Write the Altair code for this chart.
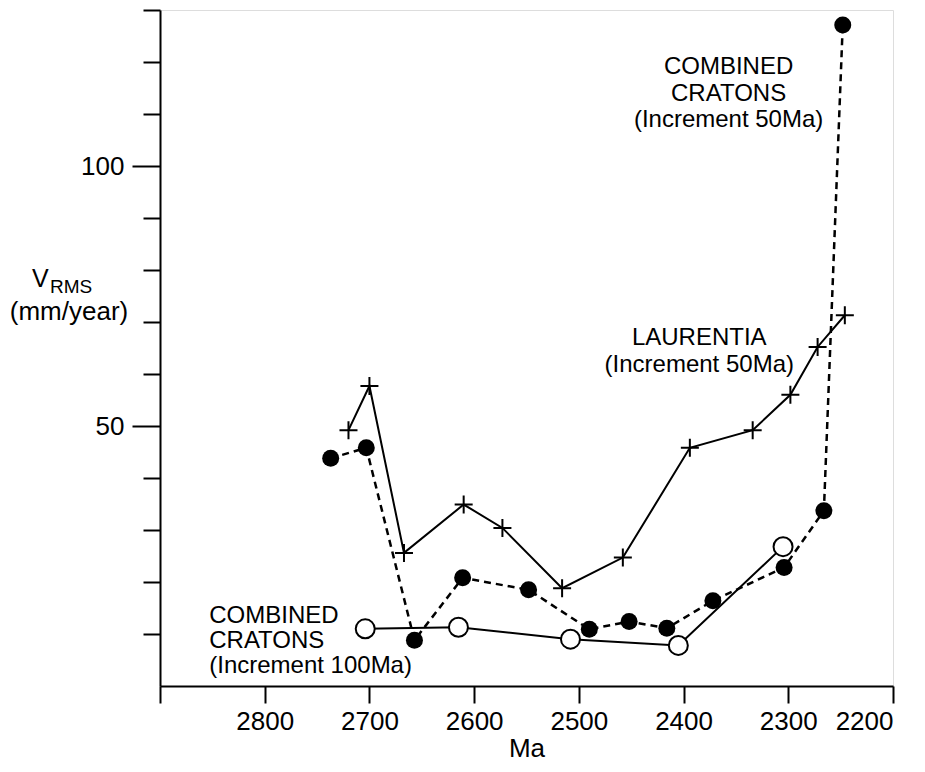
import altair as alt
import pandas as pd

FONT = "Liberation Sans"

# Laurentia (increment 50 Ma)
lau_age = [2720, 2700, 2667, 2610, 2573, 2516, 2458, 2394, 2334, 2298, 2272, 2246]
lau_v = [49.2, 57.7, 25.6, 34.9, 30.4, 18.8, 24.7, 45.8, 49.2, 56.0, 65.2, 71.3]

# Combined cratons (increment 50 Ma)
c50_age = [2737, 2703, 2657, 2611, 2548, 2490, 2452, 2416, 2372, 2304, 2266, 2248]
c50_v = [43.8, 45.8, 8.8, 20.8, 18.5, 10.9, 12.4, 11.1, 16.4, 22.8, 33.7, 127.1]

# Combined cratons (increment 100 Ma)
c100_age = [2704, 2615, 2508, 2405, 2305]
c100_v = [11.0, 11.3, 9.0, 7.8, 26.8]

x_ticks = [2200, 2300, 2400, 2500, 2600, 2700, 2800, 2900]
y_ticks = [10, 20, 30, 40, 50, 60, 70, 80, 90, 100, 110, 120, 130]

lau_df = pd.DataFrame({"age": lau_age, "v": lau_v})
c50_df = pd.DataFrame({"age": c50_age, "v": c50_v})
c100_df = pd.DataFrame({"age": c100_age, "v": c100_v})

ann_center = pd.DataFrame({
    "age": [2357, 2357, 2357, 2385, 2385],
    "v": [117.7, 112.5, 107.5, 65.6, 60.4],
    "label": ["COMBINED", "CRATONS", "(Increment 50Ma)", "LAURENTIA", "(Increment 50Ma)"],
})
ann_left = pd.DataFrame({
    "age": [2853, 2853, 2853],
    "v": [12.1, 7.3, 2.5],
    "label": ["COMBINED", "CRATONS", "(Increment 100Ma)"],
})

x_enc = alt.X(
    "age:Q",
    scale=alt.Scale(domain=[2200, 2900], reverse=True, nice=False, zero=False),
    axis=alt.Axis(
        values=x_ticks, format="d",
        labelExpr="datum.value == 2900 ? '' : datum.label",
        title="Ma", titleFont=FONT, titleFontSize=26, titleFontWeight="normal",
        titleColor="black", titleBaseline="alphabetic", titleY=70,
        labelFont=FONT, labelFontSize=26, labelColor="black", labelPadding=5,
        tickSize=17, tickWidth=2, tickColor="black",
        domainColor="black", domainWidth=2, grid=False,
    ),
)
y_enc = alt.Y(
    "v:Q",
    scale=alt.Scale(domain=[0, 130], nice=False, zero=True),
    axis=alt.Axis(
        values=y_ticks, title="",
        labelExpr="datum.value == 50 || datum.value == 100 ? datum.label : ''",
        labelFont=FONT, labelFontSize=26, labelColor="black", labelPadding=8,
        tickSize={"condition": {"test": "datum.value == 50 || datum.value == 100", "value": 28}, "value": 17},
        tickWidth=2, tickColor="black",
        domainColor="black", domainWidth=2, grid=False,
    ),
)

c100_line = alt.Chart(c100_df).mark_line(color="black", strokeWidth=2).encode(x=x_enc, y=y_enc)
lau_line = alt.Chart(lau_df).mark_line(color="black", strokeWidth=2).encode(x=x_enc, y=y_enc)
c50_line = alt.Chart(c50_df).mark_line(color="black", strokeWidth=2.5, strokeDash=[7, 5]).encode(x=x_enc, y=y_enc)

lau_pts = alt.Chart(lau_df).mark_point(
    shape="M-1,0L1,0M0,-1L0,1", size=324, filled=False, stroke="black", strokeWidth=2, opacity=1
).encode(x=x_enc, y=y_enc)
c50_pts = alt.Chart(c50_df).mark_point(
    shape="circle", size=289, filled=True, fill="black", opacity=1
).encode(x=x_enc, y=y_enc)
c100_pts = alt.Chart(c100_df).mark_point(
    shape="circle", size=361, filled=True, fill="white", stroke="black", strokeWidth=2, opacity=1
).encode(x=x_enc, y=y_enc)

ann_c = alt.Chart(ann_center).mark_text(
    font=FONT, fontSize=24, align="center", baseline="alphabetic", color="black"
).encode(x=x_enc, y=y_enc, text="label:N")
ann_l = alt.Chart(ann_left).mark_text(
    font=FONT, fontSize=24, align="left", baseline="alphabetic", color="black"
).encode(x=x_enc, y=y_enc, text="label:N")

t_v = alt.Chart(pd.DataFrame({"label": ["V"]})).mark_text(
    font=FONT, fontSize=25, align="left", baseline="alphabetic", color="black", x=-128, y=277
).encode(text="label:N")
t_rms = alt.Chart(pd.DataFrame({"label": ["RMS"]})).mark_text(
    font=FONT, fontSize=19, align="left", baseline="alphabetic", color="black", x=-110, y=283
).encode(text="label:N")
t_unit = alt.Chart(pd.DataFrame({"label": ["(mm/year)"]})).mark_text(
    font=FONT, fontSize=26, align="center", baseline="alphabetic", color="black", x=-91, y=310
).encode(text="label:N")

chart = alt.layer(
    c100_line, lau_line, c50_line, lau_pts, c50_pts, c100_pts, ann_c, ann_l, t_v, t_rms, t_unit
).properties(
    width=733, height=676,
    autosize=alt.AutoSizeParams(type="none"),
    padding={"left": 152, "top": 2, "right": 24, "bottom": 78},
).configure_view(stroke=None).configure(background="white")

chart.save("out.html", embed_options={"renderer": "svg", "actions": False})
